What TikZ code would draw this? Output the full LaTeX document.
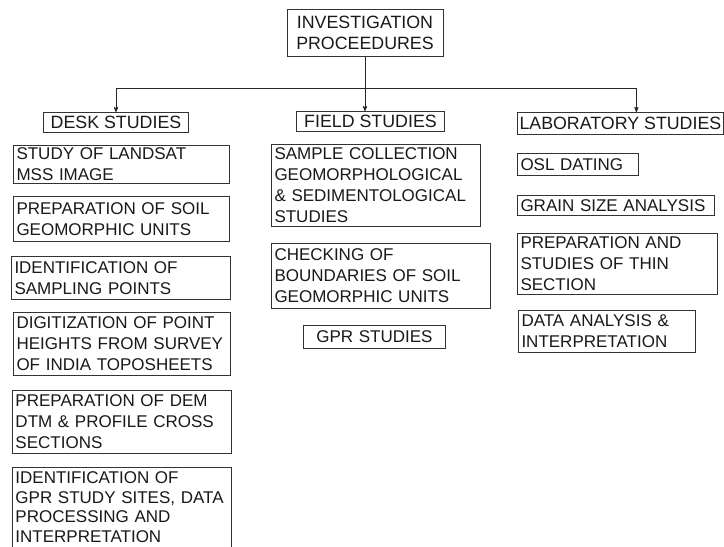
\documentclass[tikz,border=0pt]{standalone}
\usepackage{fontspec}
\setmainfont{Liberation Sans}
\usepackage{tikz}
\usetikzlibrary{arrows}

\begin{document}
\begin{tikzpicture}[x=1pt,y=-1pt,>=stealth',line width=0.8pt]
  \tikzstyle{stage}=[rectangle,draw=black!80,fill=white,text=black!90,line width=1pt,
                     font=\fontsize{17.8}{21}\selectfont,inner sep=2pt,anchor=north west]
  \tikzstyle{task}=[rectangle,draw=black!80,fill=white,text=black!90,line width=1pt,
                    font=\fontsize{17}{21}\selectfont,inner xsep=3pt,inner ysep=1pt,
                    anchor=north west,align=left]
  \useasboundingbox (0,0) rectangle (724,547);

  \node[stage,anchor=north,minimum width=156pt,minimum height=47pt,align=center] (inv) at (365,9) {INVESTIGATION\\PROCEEDURES};
  \coordinate (hub) at (0,88);

  \node[stage,minimum width=145pt,minimum height=20pt] (desk) at (43,112) {DESK STUDIES};
  \node[stage,minimum width=148pt,minimum height=20pt] (field) at (296,111) {FIELD STUDIES};
  \node[stage,minimum width=205pt,minimum height=22pt] (lab) at (517,112) {LABORATORY STUDIES};

  % desk studies
  \node[task,text width=210pt,minimum height=38pt] (landsat) at (13,145) {STUDY OF LANDSAT\\MSS IMAGE};
  \node[task,text width=210pt,minimum height=45pt] (soilunits) at (13,196) {PREPARATION OF SOIL\\GEOMORPHIC UNITS};
  \node[task,text width=213pt,minimum height=43pt] (sampling) at (11,256) {IDENTIFICATION OF\\SAMPLING POINTS};
  \node[task,text width=211pt,minimum height=63pt] (digit) at (13,312) {DIGITIZATION OF POINT\\HEIGHTS FROM SURVEY\\OF INDIA TOPOSHEETS};
  \node[task,text width=213pt,minimum height=63pt] (dem) at (12,390) {PREPARATION OF DEM\\DTM \& PROFILE CROSS\\SECTIONS};
  \node[task,text width=213pt,minimum height=86pt,font=\fontsize{17}{19.5}\selectfont] (gprsites) at (12,467) {IDENTIFICATION OF\\GPR STUDY SITES, DATA\\PROCESSING AND\\INTERPRETATION\rule[-7pt]{0pt}{7pt}};

  % field studies
  \node[task,text width=203pt,minimum height=82pt] (sample) at (271,144) {SAMPLE COLLECTION\\GEOMORPHOLOGICAL\\\& SEDIMENTOLOGICAL\\STUDIES};
  \node[task,text width=213pt,minimum height=65pt] (checking) at (271,243) {CHECKING OF\\BOUNDARIES OF SOIL\\GEOMORPHIC UNITS};
  \node[task,text width=136pt,minimum height=23pt,align=center] (gprstud) at (303,325) {GPR STUDIES};

  % laboratory studies
  \node[task,text width=115pt,minimum height=22pt] (osl) at (517,153) {OSL DATING};
  \node[task,text width=191pt,minimum height=20pt] (grain) at (517,195) {GRAIN SIZE ANALYSIS};
  \node[task,text width=194pt,minimum height=61pt] (thin) at (517,233) {PREPARATION AND\\STUDIES OF THIN\\SECTION};
  \node[task,text width=171pt,minimum height=42pt] (data) at (518,310) {DATA ANALYSIS \&\\INTERPRETATION};

  \draw[->,black!85] (inv.south) -- (inv.south |- field.north);
  \draw[->,black!85] (inv.south |- hub) -| (desk.north);
  \draw[->,black!85] (inv.south |- hub) -| ([xshift=16pt]lab.north);
\end{tikzpicture}
\end{document}
